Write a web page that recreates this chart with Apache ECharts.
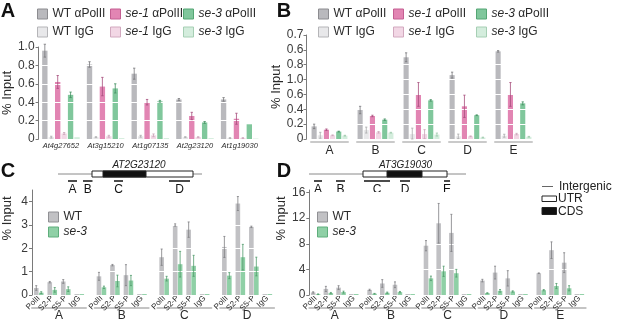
<!DOCTYPE html>
<html>
<head>
<meta charset="utf-8">
<script src="https://cdn.jsdelivr.net/npm/echarts@6/dist/echarts.min.js"></script>
<style>
  html, body { margin: 0; padding: 0; background: #fff; }
  #chart { width: 617px; height: 329px; }
</style>
</head>
<body>
<div id="chart"></div>
<script>
// ---------- datos panel A (% input por gen)
const genesA = ['At4g27652', 'At3g15210', 'At1g07135', 'At2g23120', 'At1g19030'];
const aWtPol = [0.96, 0.81, 0.71, 0.43, 0.43];
const aWtPolErr = [0.07, 0.03, 0.06, 0.01, 0.02];
const aWtIgg = [0.02, 0.02, 0.03, 0.02, 0.01];
const aWtIggErr = [0.01, 0.005, 0.01, 0.005, 0.005];
const aSe1Pol = [0.62, 0.57, 0.40, 0.25, 0.22];
const aSe1PolErr = [0.07, 0.10, 0.03, 0.04, 0.06];
const aSe1Igg = [0.06, 0.03, 0.04, 0.02, 0.01];
const aSe1IggErr = [0.01, 0.01, 0.015, 0.005, 0.005];
const aSe3Pol = [0.48, 0.55, 0.41, 0.18, 0.16];
const aSe3PolErr = [0.03, 0.05, 0.01, 0.01, 0];
const aSe3Igg = [0.02, 0.01, 0.01, 0.01, 0.005];
const aSe3IggErr = [0, 0, 0, 0, 0];

// ---------- datos panel B (regiones de AT3G19030)
const regionsB = ['A', 'B', 'C', 'D', 'E'];
const bTicks = ['0', '0.2', '0.4', '0.6', '1.0', '0.8', '0.6', '0.7'];
const bWtPol = [0.17, 0.39, 1.10, 0.86, 1.18];
const bWtPolErr = [0.03, 0.05, 0.06, 0.04, 0.01];
const bWtIgg = [0.05, 0.12, 0.066, 0.036, 0.044];
const bWtIggErr = [0.04, 0.04, 0.08, 0.03, 0.02];
const bSe1Pol = [0.125, 0.31, 0.60, 0.44, 0.60];
const bSe1PolErr = [0.01, 0.01, 0.16, 0.15, 0.16];
const bSe1Igg = [0.05, 0.09, 0.066, 0.036, 0.066];
const bSe1IggErr = [0.005, 0.01, 0.06, 0.005, 0.01];
const bSe3Pol = [0.10, 0.26, 0.52, 0.32, 0.48];
const bSe3PolErr = [0.005, 0.01, 0.01, 0.005, 0.02];
const bSe3Igg = [0.045, 0.085, 0.06, 0.02, 0.03];
const bSe3IggErr = [0.005, 0.005, 0.02, 0.005, 0.005];

// ---------- datos paneles C y D (anticuerpos por region)
const antibodies = ['PolII', 'S2-P', 'S5-P', 'IgG'];
const regionsC = ['A', 'B', 'C', 'D'];
const cWt = [[0.30, 0.55, 0.58, 0.04], [0.80, 1.28, 0.85, 0.04], [1.62, 3.00, 2.80, 0.04], [2.06, 3.92, 2.92, 0.04]];
const cWtErr = [[0.10, 0.03, 0.08, 0], [0.17, 0.03, 0.45, 0], [0.35, 0.05, 0.33, 0], [0.45, 0.30, 0.03, 0]];
const cSe3 = [[0.10, 0.22, 0.25, 0.04], [0.33, 0.60, 0.62, 0.04], [0.70, 1.32, 1.25, 0.04], [0.83, 1.62, 1.22, 0.04]];
const cSe3Err = [[0.04, 0.10, 0.10, 0], [0.05, 0.25, 0.22, 0], [0.10, 0.55, 0.45, 0], [0.13, 0.55, 0.40, 0]];

const regionsD = ['A', 'B', 'C', 'D', 'E'];
const dWt = [[0.40, 0.95, 1.15, 0.15], [0.80, 1.80, 1.60, 0.15], [7.70, 11.2, 9.70, 0.15], [2.25, 3.50, 2.60, 0.15], [3.40, 7.00, 5.05, 0.15]];
const dWtErr = [[0.10, 0.40, 0.30, 0], [0.10, 0.60, 0.45, 0], [0.80, 3.10, 2.90, 0], [0.20, 1.00, 1.20, 0], [0.05, 1.30, 1.55, 0]];
const dSe3 = [[0.12, 0.30, 0.45, 0.15], [0.20, 0.35, 0.45, 0.15], [2.60, 3.70, 3.40, 0.15], [0.30, 0.65, 0.55, 0.15], [0.75, 1.40, 1.05, 0.15]];
const dSe3Err = [[0.05, 0.10, 0.15, 0], [0.05, 0.10, 0.10, 0], [0.35, 0.80, 0.60, 0], [0.05, 0.20, 0.10, 0], [0.10, 0.40, 0.40, 0]];

const font = "'Liberation Sans', Arial, sans-serif";
const txt = '#2a2a2a';

const chipNames = ['WT αPolII', 'WT IgG', 'se-1 αPolII', 'se-1 IgG', 'se-3 αPolII', 'se-3 IgG'];
const chipColors = ['#b9b9bd', '#e8e8ea', '#e285b3', '#f2d7e5', '#80c79c', '#d4eddd'];
const chipBorders = ['#8c8c90', '#b5b5b8', '#c45f92', '#d2a9bf', '#55a674', '#a6cfb4'];
const chipErr = ['#77777b', '#a9a9ab', '#a64c7b', '#c9a3b7', '#438f61', '#9dc8ab'];
const mutNames = ['WT', 'se-3'];
const mutColors = ['#c1c1c4', '#8fd0a6'];
const mutBorders = ['#909094', '#5fae7c'];
const mutErr = ['#7d7d81', '#4f9a6b'];

let grids = [], xAxes = [], yAxes = [], series = [];

// barras de error dibujadas con serie custom
function errorSeries(xi, yi, vals, errs, k, n, catGap, barGap, color) {
    return {
        type: 'custom', xAxisIndex: xi, yAxisIndex: yi, z: 10, silent: true,
        data: vals.map((v, i) => [i, v, errs[i]]),
        encode: { x: 0, y: 1 },
        renderItem: (params, api) => {
            const e = api.value(2);
            if (!e) return null;
            const i = api.value(0), v = api.value(1);
            const band = api.size([1, 0])[0];
            const usable = band * (1 - catGap);
            const w = usable / (n + (n - 1) * barGap);
            const x = api.coord([i, v])[0] - usable / 2 + k * w * (1 + barGap) + w / 2;
            const yHi = api.coord([i, v + e])[1];
            const yLo = api.coord([i, Math.max(0, v - e)])[1];
            const cap = Math.max(1, w * 0.22);
            const style = { stroke: color, lineWidth: 0.8 };
            return {
                type: 'group', children: [
                    { type: 'line', shape: { x1: x, y1: yHi, x2: x, y2: yLo }, style },
                    { type: 'line', shape: { x1: x - cap, y1: yHi, x2: x + cap, y2: yHi }, style },
                    { type: 'line', shape: { x1: x - cap, y1: yLo, x2: x + cap, y2: yLo }, style }
                ]
            };
        }
    };
}

function addBars(xi, yi, names, colors, errColors, vals, errs, catGap, barGap) {
    names.forEach((nm, k) => {
        series.push({
            type: 'bar', name: nm, xAxisIndex: xi, yAxisIndex: yi, data: vals[k], silent: true,
            itemStyle: { color: colors[k] },
            barCategoryGap: (catGap * 100) + '%', barGap: (barGap * 100) + '%', z: 2
        });
        series.push(errorSeries(xi, yi, vals[k], errs[k], k, names.length, catGap, barGap, errColors[k]));
    });
}

function valueAxis(gi, opts) {
    return Object.assign({
        gridIndex: gi, type: 'value', min: 0, z: 5,
        nameLocation: 'middle',
        nameTextStyle: { fontSize: 13, color: txt, fontFamily: font },
        axisLine: { show: true, lineStyle: { color: '#7a7a7a', width: 1 } },
        axisTick: { show: true, length: 3, lineStyle: { color: '#7a7a7a' } },
        axisLabel: { fontSize: 12, color: '#3a3a3a', margin: 4, fontFamily: font },
        splitLine: { show: true, lineStyle: { color: '#ffffff', width: 1 } }
    }, opts);
}

// ---------- panel A
grids.push({ left: 34, top: 47, width: 228, height: 92 });
xAxes.push({
    gridIndex: 0, type: 'category', data: genesA,
    axisLine: { show: false }, axisTick: { show: false },
    axisLabel: { interval: 0, fontSize: 7.5, fontStyle: 'italic', color: txt, margin: 3, fontFamily: font }
});
yAxes.push(valueAxis(0, {
    max: 1, interval: 0.2, name: '% Input', nameGap: 18,
    axisLabel: { fontSize: 12, color: '#3a3a3a', margin: 4, fontFamily: font,
        formatter: v => v === 0 ? '0' : v.toFixed(1) }
}));
addBars(0, 0, chipNames, chipColors, chipErr,
    [aWtPol, aWtIgg, aSe1Pol, aSe1Igg, aSe3Pol, aSe3Igg],
    [aWtPolErr, aWtIggErr, aSe1PolErr, aSe1IggErr, aSe3PolErr, aSe3IggErr], 0.16, 0.2);

// ---------- panel B
grids.push({ left: 306.5, top: 35, width: 230, height: 104 });
xAxes.push({
    gridIndex: 1, type: 'category', data: regionsB, offset: 2.5,
    axisLine: { show: true, onZero: false, lineStyle: { color: '#cacaca', width: 2, type: [37, 9], dashOffset: 41.5 } },
    axisTick: { show: false },
    axisLabel: { interval: 0, fontSize: 12, color: txt, margin: 3, fontFamily: font }
});
yAxes.push(valueAxis(1, {
    max: 1.4, interval: 0.2, name: '% Input', nameGap: 19,
    axisLabel: { fontSize: 12, color: '#3a3a3a', margin: 3, fontFamily: font,
        formatter: v => bTicks[Math.round(v / 0.2)] }
}));
addBars(1, 1, chipNames, chipColors, chipErr,
    [bWtPol, bWtIgg, bSe1Pol, bSe1Igg, bSe3Pol, bSe3Igg],
    [bWtPolErr, bWtIggErr, bSe1PolErr, bSe1IggErr, bSe3PolErr, bSe3IggErr], 0.22, 0.2);

// ---------- paneles C y D: una rejilla por region
function addRegionPanel(regions, left0, pitch, width, max, ticks, wt, wtErr, se3, se3Err, catGap, labelGap) {
    regions.forEach((reg, g) => {
        const gi = grids.length;
        grids.push({ left: left0 + g * pitch, top: 190, width: width, height: 105 });
        const xi = xAxes.length;
        xAxes.push({
            gridIndex: gi, type: 'category', data: antibodies, position: 'bottom',
            axisLine: { show: false }, axisTick: { show: false },
            axisLabel: { interval: 0, rotate: 45, fontSize: 8, color: txt, margin: 2, fontFamily: font }
        });
        xAxes.push({
            gridIndex: gi, type: 'category', data: [reg], position: 'bottom', offset: 13,
            axisLine: { show: true, onZero: false, lineStyle: { color: '#c4c4c4', width: 2 } },
            axisTick: { show: false }, axisLabel: { show: false },
            name: reg, nameLocation: 'middle', nameGap: 2,
            nameTextStyle: { fontSize: 12, color: txt, fontFamily: font }
        });
        const yi = yAxes.length;
        const first = g === 0;
        yAxes.push(valueAxis(gi, {
            max: max, interval: ticks[1] - ticks[0],
            name: first ? '% Input' : '', nameGap: labelGap,
            nameTextStyle: { fontSize: 13, color: txt, fontFamily: font, padding: [0, 0, 0, 48] },
            axisLine: { show: first, lineStyle: { color: '#7a7a7a', width: 1 } },
            axisTick: { show: first, length: 3, customValues: ticks, lineStyle: { color: '#7a7a7a' } },
            axisLabel: { show: first, customValues: ticks, fontSize: 12, color: '#3a3a3a', margin: 4, fontFamily: font }
        }));
        addBars(xi, yi, mutNames, mutColors, mutErr,
            [wt[g], se3[g]], [wtErr[g], se3Err[g]], catGap, 0.08);
    });
}
addRegionPanel(regionsC, 32, 62.7, 54, 4.5, [0, 1, 2, 3, 4], cWt, cWtErr, cSe3, cSe3Err, 0.29, 18);
addRegionPanel(regionsD, 309.3, 56.4, 50.8, 16.4, [0, 4, 8, 12, 16], dWt, dWtErr, dSe3, dSe3Err, 0.25, 16);

// ---------- leyendas: un componente por entrada para fijar su posicion
function legendItem(name, color, border, left, top) {
    return {
        data: [{ name: name, itemStyle: { color: color, borderColor: border, borderWidth: 1 } }],
        left: left, top: top, icon: 'rect', padding: 0, z: 20,
        itemWidth: 10, itemHeight: 10, selectedMode: false,
        formatter: nm => nm.replace(/^(se-\d)/, '{i|$1}'),
        textStyle: {
            fontSize: 12, color: txt, fontFamily: font,
            rich: { i: { fontStyle: 'italic', fontSize: 12, color: txt, fontFamily: font } }
        }
    };
}
const legendXA = [37, 110, 183], legendXB = [318, 393, 476], legendY = [8, 26];
const legends = [];
chipNames.forEach((nm, k) => {
    const col = Math.floor(k / 2), row = k % 2;
    legends.push(legendItem(nm, chipColors[k], chipBorders[k], legendXA[col], legendY[row]));
    legends.push(legendItem(nm, chipColors[k], chipBorders[k], legendXB[col], legendY[row]));
});
mutNames.forEach((nm, k) => {
    legends.push(legendItem(nm, mutColors[k], mutBorders[k], 48, 211 + k * 15));
    legends.push(legendItem(nm, mutColors[k], mutBorders[k], 317, 211 + k * 15));
});

// ---------- esquemas de genes y letras de panel
function label(x, y, text, size, opts) {
    return Object.assign({
        type: 'text', x: x, y: y,
        style: { text: text, fontSize: size, fontFamily: font, fill: '#111', align: 'center', verticalAlign: 'middle' }
    }, opts || {});
}
function hline(x1, x2, y, color, w) {
    return { type: 'line', shape: { x1: x1, y1: y, x2: x2, y2: y }, style: { stroke: color, lineWidth: w } };
}
function box(x, y, w, h, fill) {
    return { type: 'rect', shape: { x: x, y: y, width: w, height: h }, style: { fill: fill, stroke: '#222', lineWidth: 1 } };
}
function gene(name, cx, line, utr, cds, regs) {
    const out = [
        hline(line[0], line[1], 174, '#8a8a8a', 1),
        box(utr[0], 171, utr[1] - utr[0], 6, '#fff'),
        box(cds[0], 171, cds[1] - cds[0], 6, '#111'),
        { type: 'text', x: cx, y: 165, style: { text: name, fontSize: 10, fontStyle: 'italic', fontFamily: font, fill: '#222', align: 'center', verticalAlign: 'middle' } }
    ];
    regs.forEach(r => {
        out.push(hline(r[1], r[2], 181, '#111', 1.5));
        out.push(label((r[1] + r[2]) / 2, 189.5, r[0], 12, {}));
    });
    return out;
}

const graphics = [].concat(
    [label(8, 11, 'A', 20, {}), label(284, 11.5, 'B', 20, {}), label(8, 171.5, 'C', 20, {}), label(284, 171.5, 'D', 20, {})]
        .map(g => { g.style.fontWeight = 'bold'; return g; }),
    gene('AT2G23120', 139, [58, 202], [92, 193], [103, 146],
        [['A', 68, 77], ['B', 83, 92.5], ['C', 114, 123], ['D', 169, 190]]),
    gene('AT3G19030', 405.5, [309, 466], [363, 447], [387, 422],
        [['A', 314, 322], ['B', 336, 345], ['C', 364, 390], ['D', 400, 410], ['E', 444, 450]]),
    [
        hline(542, 553, 186.5, '#666', 1),
        { type: 'text', x: 559, y: 186.5, style: { text: 'Intergenic', fontSize: 12, fontFamily: font, fill: '#222', verticalAlign: 'middle' } },
        box(542, 196, 14.5, 5.5, '#fff'),
        { type: 'text', x: 558, y: 199, style: { text: 'UTR', fontSize: 12, fontFamily: font, fill: '#222', verticalAlign: 'middle' } },
        box(542, 207.5, 14.5, 7, '#111'),
        { type: 'text', x: 558, y: 211.5, style: { text: 'CDS', fontSize: 12, fontFamily: font, fill: '#222', verticalAlign: 'middle' } }
    ]
);

// Inicializa el gráfico
let chart = echarts.init(document.getElementById('chart'), null, { renderer: 'canvas' });

let option = {
    backgroundColor: '#fff',
    animation: false,
    textStyle: { fontFamily: font },
    legend: legends,
    grid: grids,
    xAxis: xAxes,
    yAxis: yAxes,
    series: series,
    graphic: { elements: graphics }
};

option && chart.setOption(option);
window.addEventListener('resize', chart.resize);
</script>
</body>
</html>
